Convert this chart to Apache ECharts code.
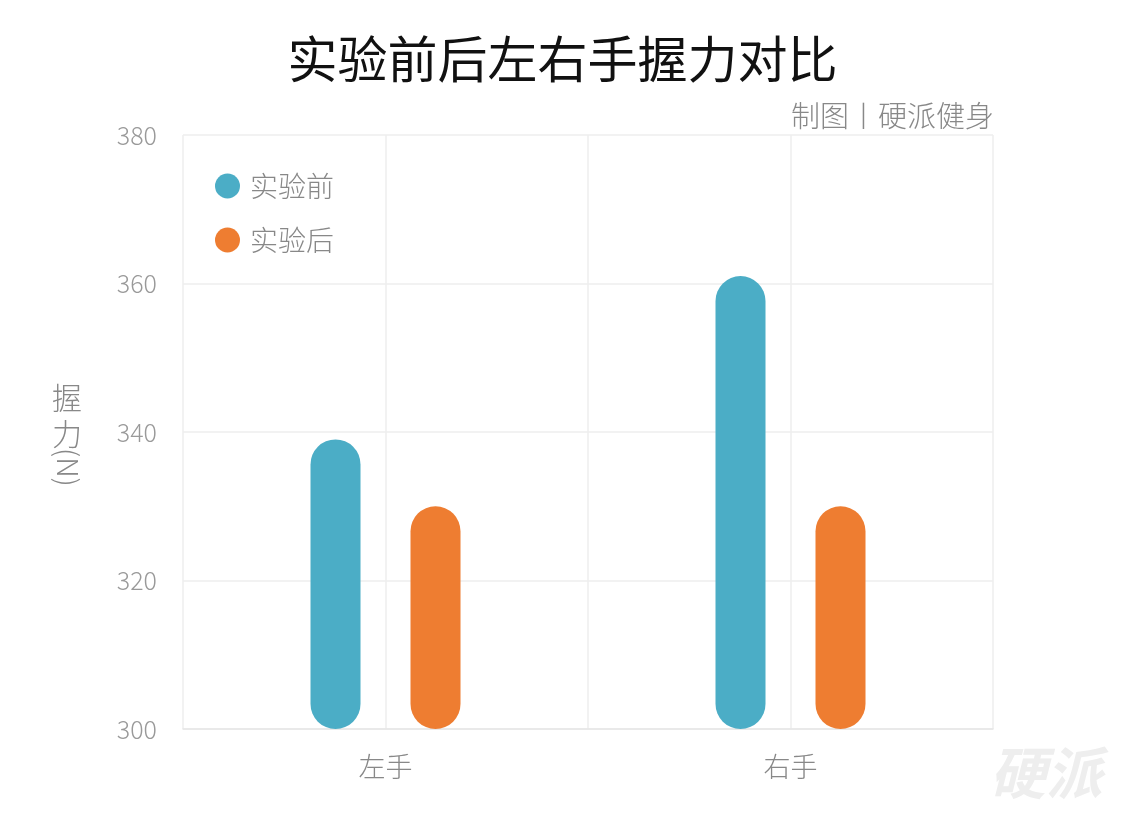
<!DOCTYPE html>
<html>
<head>
<meta charset="utf-8">
<script src="https://cdn.jsdelivr.net/npm/echarts@6/dist/echarts.min.js"></script>
<style>
html,body{margin:0;padding:0;background:#fff;}
#main{width:1125px;height:818px;}
</style>
</head>
<body>
<div id="main"></div>
<script>
const categories = ['左手', '右手'];
const seriesNames = ['实验前', '实验后'];
const beforeValues = [339, 361];
const afterValues = [330, 330];
const yTicks = [300, 320, 340, 360, 380];

const FONT = '"Noto Sans CJK SC", "Noto Sans", sans-serif';
const chart = echarts.init(document.getElementById('main'));
chart.setOption({
  backgroundColor: '#fff',
  animation: false,
  title: [{
    text: '实验前后左右手握力对比',
    left: 'center', top: 29,
    textStyle: { fontFamily: FONT, fontSize: 50, fontWeight: 'normal', color: '#111' }
  }, {
    text: '制图丨硬派健身',
    right: 126, top: 96,
    textStyle: { fontFamily: FONT, fontSize: 29, fontWeight: 300, color: '#888' }
  }],
  legend: {
    orient: 'vertical', left: 210, top: 167,
    icon: 'circle', itemWidth: 25, itemHeight: 25, itemGap: 26,
    data: seriesNames,
    textStyle: { fontFamily: FONT, fontSize: 28, fontWeight: 300, color: '#888', padding: [0, 0, 0, 5] }
  },
  grid: { left: 183, right: 132, top: 135, bottom: 89, containLabel: false },
  xAxis: [{
    type: 'category', data: categories,
    axisLine: { lineStyle: { color: '#e6e6e6', width: 1.5 } },
    axisTick: { show: false },
    axisLabel: { fontFamily: FONT, fontSize: 27, fontWeight: 300, color: '#888', margin: 24 },
    splitLine: { show: false }
  }, {
    type: 'value', min: 0, max: 4, interval: 1, position: 'bottom',
    axisLine: { show: false }, axisTick: { show: false }, axisLabel: { show: false },
    splitLine: { show: true, lineStyle: { color: '#eeeeee', width: 1.5 } }
  }],
  yAxis: {
    type: 'value', min: yTicks[0], max: yTicks[yTicks.length - 1], interval: 20,
    axisLine: { show: false }, axisTick: { show: false },
    axisLabel: { fontFamily: FONT, fontSize: 25, fontWeight: 300, color: '#999', margin: 26 },
    splitLine: { lineStyle: { color: '#eeeeee', width: 1.5 } }
  },
  series: [{
    name: seriesNames[0], type: 'bar', data: beforeValues,
    barWidth: 50, barGap: '100%',
    itemStyle: { color: '#4BADC6', borderRadius: 25 }
  }, {
    name: seriesNames[1], type: 'bar', data: afterValues,
    barWidth: 50,
    itemStyle: { color: '#EE7D31', borderRadius: 25 }
  }],
  graphic: [{
    type: 'text', left: 52, top: 380,
    style: { text: '握\n力', fontFamily: FONT, fontSize: 30, fontWeight: 300, fill: '#888', lineHeight: 36 }
  }, {
    type: 'text', x: 83, y: 448, rotation: -Math.PI / 2,
    style: { text: '(N)', fontFamily: FONT, fontSize: 29, fontWeight: 300, fill: '#888' }
  }, {
    type: 'text', left: 990, top: 745,
    style: { text: '硬派', fontFamily: FONT, fontSize: 56, fontStyle: 'italic', fontWeight: 'bold', fill: '#eeeeee' }
  }]
});
</script>
</body>
</html>
